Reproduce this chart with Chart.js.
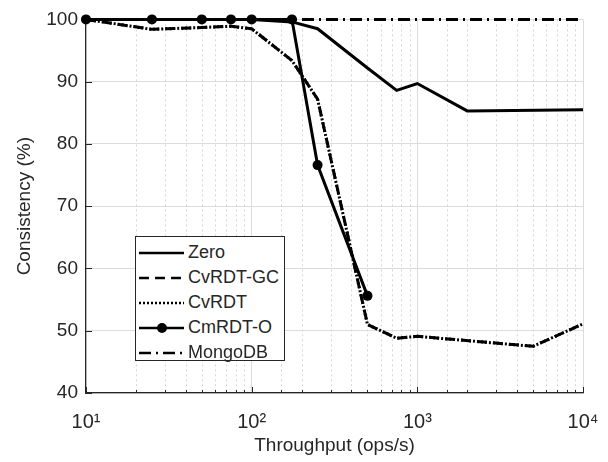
<!DOCTYPE html>
<html lang="en">
<head>
    <meta charset="UTF-8">
    <title>Consistency vs Throughput</title>
    <script src="https://cdn.jsdelivr.net/npm/chart.js"></script>
    <style>
        body {
            margin: 0;
            background: #ffffff;
            font-family: "Liberation Sans", Arial, sans-serif;
        }
        .wrap {
            position: relative;
            width: 608px;
            height: 462px;
        }
        .legend {
            position: absolute;
            left: 135px;
            top: 236px;
            width: 150px;
            height: 125px;
            border: 1px solid #262626;
            background: #fff;
            box-sizing: border-box;
            padding-top: 3px;
        }
        .legend .row {
            display: flex;
            align-items: center;
            height: 25px;
            font-size: 18px;
            color: #262626;
        }
        .legend svg {
            margin-left: 3px;
            margin-right: 4px;
        }
    </style>
</head>
<body>
    <div class="wrap">
        <canvas id="chart" width="608" height="462"></canvas>
        <div id="legend" class="legend"></div>
    </div>

    <script>
        // values (throughput in ops/s, consistency in %)
        const zeroX = [10, 25, 50, 75, 100, 175, 250, 500, 750, 1000, 2000, 10000];
        const zeroY = [100, 100, 100, 100, 100, 99.6, 98.5, 92.2, 88.6, 89.7, 85.3, 85.5];

        const cvrdtGcX = [10, 25, 50, 75, 100, 175, 250, 500, 750, 1000, 5000, 10000];
        const cvrdtGcY = [100, 98.4, 98.7, 98.9, 98.5, 93.4, 87.2, 51.0, 48.8, 49.1, 47.5, 51.1];

        const cvrdtX = [10, 25, 50, 75, 100, 175, 250, 500, 750, 1000, 5000, 10000];
        const cvrdtY = [100, 98.4, 98.7, 98.9, 98.5, 93.4, 87.2, 51.0, 48.8, 49.1, 47.5, 51.1];

        const cmrdtX = [10, 25, 50, 75, 100, 175, 250, 500];
        const cmrdtY = [100, 100, 100, 100, 100, 100, 76.6, 55.6];

        const mongoX = [10, 100, 175, 250, 500, 1000, 10000];
        const mongoY = [100, 100, 100, 100, 100, 100, 100];

        const yTicks = [40, 50, 60, 70, 80, 90, 100];
        const supers = { 1: '¹', 2: '²', 3: '³', 4: '⁴' };

        function pts(xs, ys) {
            return xs.map((x, i) => ({ x: x, y: ys[i] }));
        }

        const ink = '#262626';
        const series = [
            { label: 'Zero', data: pts(zeroX, zeroY), dash: [], marker: false },
            { label: 'CvRDT-GC', data: pts(cvrdtGcX, cvrdtGcY), dash: [10, 6], marker: false },
            { label: 'CvRDT', data: pts(cvrdtX, cvrdtY), dash: [2, 2], marker: false },
            { label: 'CmRDT-O', data: pts(cmrdtX, cmrdtY), dash: [], marker: true },
            { label: 'MongoDB', data: pts(mongoX, mongoY), dash: [12, 5, 2, 5], marker: false }
        ];

        const isMajor = v => Math.abs(Math.log10(v) - Math.round(Math.log10(v))) < 1e-9;

        // dotted minor grid + inward tick marks, placed from the scales
        const minorGrid = {
            id: 'minorGrid',
            beforeDatasetsDraw(chart) {
                const { ctx, chartArea: a, scales: { x, y } } = chart;
                ctx.save();
                ctx.lineWidth = 1;
                ctx.strokeStyle = '#d6d6d6';
                ctx.setLineDash([2, 3]);
                x.ticks.forEach(t => {
                    if (isMajor(t.value)) return;
                    const px = Math.round(x.getPixelForValue(t.value)) + 0.5;
                    ctx.beginPath();
                    ctx.moveTo(px, a.top);
                    ctx.lineTo(px, a.bottom);
                    ctx.stroke();
                });
                ctx.setLineDash([]);
                ctx.strokeStyle = ink;
                x.ticks.forEach(t => {
                    const px = Math.round(x.getPixelForValue(t.value)) + 0.5;
                    const len = isMajor(t.value) ? 6 : 3;
                    ctx.beginPath();
                    ctx.moveTo(px, a.bottom);
                    ctx.lineTo(px, a.bottom - len);
                    ctx.stroke();
                });
                y.ticks.forEach(t => {
                    const py = Math.round(y.getPixelForValue(t.value)) + 0.5;
                    ctx.beginPath();
                    ctx.moveTo(a.left, py);
                    ctx.lineTo(a.left + 6, py);
                    ctx.stroke();
                });
                ctx.restore();
            }
        };

        const ctx = document.getElementById('chart').getContext('2d');
        const chart = new Chart(ctx, {
            type: 'line',
            data: {
                datasets: series.map(s => ({
                    label: s.label,
                    data: s.data,
                    borderColor: '#000',
                    backgroundColor: '#000',
                    borderWidth: 3,
                    borderDash: s.dash,
                    pointRadius: s.marker ? 5 : 0,
                    pointBackgroundColor: '#000',
                    pointBorderWidth: 0,
                    tension: 0,
                    fill: false,
                    clip: 8
                }))
            },
            options: {
                responsive: false,
                animation: false,
                layout: { padding: { top: 17, right: 25, left: 0, bottom: 0 } },
                plugins: {
                    legend: { display: false },
                    tooltip: { enabled: false }
                },
                scales: {
                    x: {
                        type: 'logarithmic',
                        min: 10,
                        max: 10000,
                        afterFit: s => {
                            s.height = 69;
                            s.paddingLeft = 0;
                            s.paddingRight = 0;
                        },
                        ticks: {
                            autoSkip: false,
                            maxRotation: 0,
                            padding: 17,
                            color: ink,
                            font: { family: 'Liberation Sans', size: 20 },
                            callback: v => isMajor(v) ? '10' + supers[Math.round(Math.log10(v))] : ''
                        },
                        grid: {
                            drawTicks: false,
                            color: c => isMajor(c.tick.value) ? '#dcdcdc' : 'rgba(0,0,0,0)',
                            lineWidth: 1
                        },
                        border: { display: true, color: ink, width: 1.2 },
                        title: {
                            display: true,
                            text: 'Throughput (ops/s)',
                            color: ink,
                            font: { family: 'Liberation Sans', size: 19 },
                            padding: { top: 0, bottom: 5 }
                        }
                    },
                    y: {
                        min: 40,
                        max: 100,
                        afterFit: s => { s.width = 86; },
                        afterBuildTicks: s => { s.ticks = yTicks.map(v => ({ value: v })); },
                        ticks: {
                            padding: 8,
                            color: ink,
                            font: { family: 'Liberation Sans', size: 19 }
                        },
                        grid: {
                            drawTicks: false,
                            color: '#dcdcdc',
                            lineWidth: 1
                        },
                        border: { display: true, color: ink, width: 1.2 },
                        title: {
                            display: true,
                            text: 'Consistency (%)',
                            color: ink,
                            font: { family: 'Liberation Sans', size: 19 },
                            padding: { top: 13, bottom: 0 }
                        }
                    }
                }
            },
            plugins: [minorGrid]
        });

        // legend drawn inside the plot like the original figure
        const legendDiv = document.getElementById('legend');
        series.forEach(s => {
            const row = document.createElement('div');
            row.className = 'row';
            const dash = s.dash.length ? `stroke-dasharray="${s.dash.join(' ')}"` : '';
            const dot = s.marker ? '<circle cx="23" cy="6" r="5" fill="#000"/>' : '';
            row.innerHTML = `<svg width="45" height="12"><line x1="0" y1="6" x2="45" y2="6" stroke="#000" stroke-width="2.6" ${dash}/>${dot}</svg><span>${s.label}</span>`;
            legendDiv.appendChild(row);
        });
    </script>
</body>
</html>
